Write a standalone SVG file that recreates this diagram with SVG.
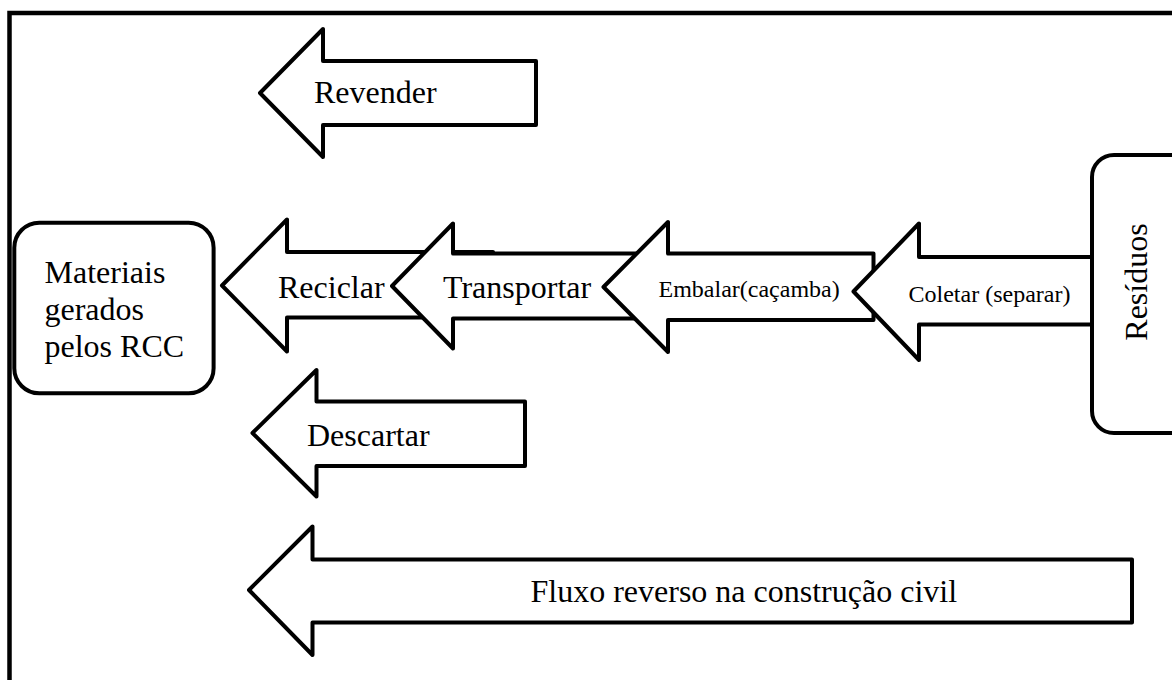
<svg xmlns="http://www.w3.org/2000/svg" width="1172" height="680" viewBox="0 0 1172 680">
  <style>
    .frame { fill: none; stroke: #000; stroke-width: 4.5; }
    .box { fill: #fff; stroke: #000; stroke-width: 4; }
    .arrow { fill: #fff; stroke: #000; stroke-width: 4; stroke-linejoin: round; }
    .t { font-family: "Liberation Serif", "Times New Roman", serif; fill: #000; }
    .big { font-size: 32px; }
    .small { font-size: 24px; }
  </style>
  <rect width="1172" height="680" fill="#fff"/>
  <rect class="frame" x="9.5" y="13" width="1230" height="730"/>

  <g id="connectors">
    <g id="arrow-revender">
      <path class="arrow" d="M260,93 L323,29 L323,61 L536,61 L536,125 L323,125 L323,157 Z"/>
      <text class="t big" x="314" y="103">Revender</text>
    </g>
    <g id="arrow-reciclar">
      <path class="arrow" d="M222,285.5 L287,219.5 L287,252 L493,252 L493,317.5 L287,317.5 L287,351.5 Z"/>
      <text class="t big" x="278" y="298">Reciclar</text>
    </g>
    <g id="arrow-transportar">
      <path class="arrow" d="M392,286 L453,223.5 L453,253.5 L645,253.5 L645,318.5 L453,318.5 L453,348.5 Z"/>
      <text class="t big" x="443" y="298">Transportar</text>
    </g>
    <g id="arrow-embalar">
      <path class="arrow" d="M603.5,287 L668,222 L668,253.5 L873.5,253.5 L873.5,320 L668,320 L668,352 Z"/>
      <text class="t small" x="658.5" y="296.5">Embalar(caçamba)</text>
    </g>
    <g id="arrow-coletar">
      <path class="arrow" d="M853.5,291.5 L919,223.5 L919,257 L1092,257 L1092,324.5 L919,324.5 L919,360 Z"/>
      <text class="t small" x="908.5" y="302">Coletar (separar)</text>
    </g>
    <g id="arrow-descartar">
      <path class="arrow" d="M252.5,433 L316.5,370 L316.5,401.5 L525,401.5 L525,466 L316.5,466 L316.5,496.5 Z"/>
      <text class="t big" x="307" y="446">Descartar</text>
    </g>
    <g id="arrow-fluxo">
      <path class="arrow" d="M249,590 L312.5,526.5 L312.5,559.5 L1132,559.5 L1132,622.5 L312.5,622.5 L312.5,655 Z"/>
      <text class="t big" x="530.5" y="602">Fluxo reverso na construção civil</text>
    </g>
  </g>

  <g id="node-materiais">
    <rect class="box" x="14.3" y="222.7" width="199.3" height="170.6" rx="25" ry="25"/>
    <text class="t big" x="44.5" y="283">Materiais</text>
    <text class="t big" x="44.5" y="320">gerados</text>
    <text class="t big" x="44.5" y="357">pelos RCC</text>
  </g>

  <g id="node-residuos">
    <rect class="box" x="1092" y="155" width="110" height="278" rx="22" ry="22"/>
    <text class="t big" text-anchor="middle" transform="translate(1147,282) rotate(-90)">Resíduos</text>
  </g>
</svg>
